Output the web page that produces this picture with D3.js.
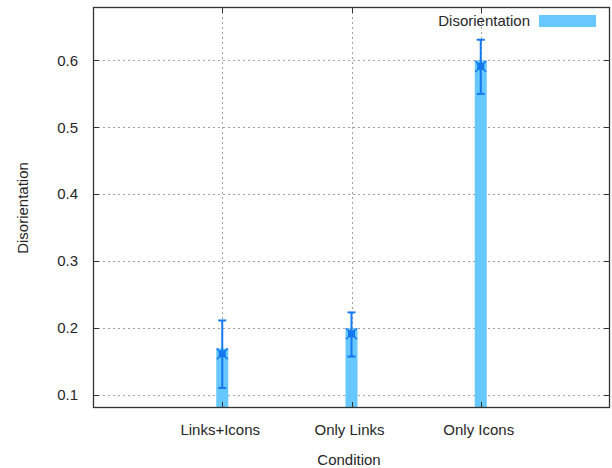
<!DOCTYPE html>
<html>
<head>
<meta charset="utf-8">
<script src="https://cdn.jsdelivr.net/npm/d3@7"></script>
<style>
  html, body { margin: 0; padding: 0; background: #fff; }
  svg { display: block; font-family: "Liberation Sans", Arial, Helvetica, sans-serif; }
</style>
</head>
<body>
<svg id="chart" width="612" height="468"></svg>
<script>
const categories = ["Links+Icons", "Only Links", "Only Icons"];
const barValues = [0.169, 0.199, 0.600];
const pointValues = [0.161, 0.191, 0.591];
const errLow = [0.110, 0.157, 0.550];
const errHigh = [0.211, 0.223, 0.631];
const yTicks = [0.1, 0.2, 0.3, 0.4, 0.5, 0.6];
const seriesName = "Disorientation";
const xLabel = "Condition";
const yLabel = "Disorientation";

const svg = d3.select("#chart");
const L = 93, R = 610, T = 7, B = 408;

const x = d3.scaleLinear().domain([0, 4]).range([L, R]);
const y = d3.scaleLinear().domain([0.08, 0.68]).range([B, T]);
const xPos = categories.map((c, i) => i + 1);

const barColor = "#66c8fe";
const errColor = "#1478f0";
const gridColor = "#a0a0a0";
const textColor = "#262626";

// grid
const grid = svg.append("g");
grid.selectAll("line.h").data(yTicks).join("line")
  .attr("x1", L).attr("x2", R)
  .attr("y1", d => Math.round(y(d)) + 0.5).attr("y2", d => Math.round(y(d)) + 0.5)
  .attr("stroke", gridColor).attr("stroke-width", 1).attr("stroke-dasharray", "2,3");
grid.selectAll("line.v").data(xPos).join("line")
  .attr("x1", d => Math.round(x(d)) + 0.5).attr("x2", d => Math.round(x(d)) + 0.5)
  .attr("y1", T).attr("y2", B)
  .attr("stroke", gridColor).attr("stroke-width", 1).attr("stroke-dasharray", "2,3");

// bars
const bw = 12;
svg.append("g").selectAll("rect").data(barValues).join("rect")
  .attr("x", (d, i) => x(xPos[i]) - bw / 2)
  .attr("width", bw)
  .attr("y", d => y(d))
  .attr("height", d => B - y(d))
  .attr("fill", barColor);

// error bars
const eg = svg.append("g").attr("stroke", errColor).attr("stroke-width", 2);
categories.forEach((c, i) => {
  const cx = x(xPos[i]);
  eg.append("line").attr("x1", cx).attr("x2", cx).attr("y1", y(errLow[i])).attr("y2", y(errHigh[i]));
  eg.append("line").attr("x1", cx - 4).attr("x2", cx + 4).attr("y1", y(errLow[i])).attr("y2", y(errLow[i]));
  eg.append("line").attr("x1", cx - 4).attr("x2", cx + 4).attr("y1", y(errHigh[i])).attr("y2", y(errHigh[i]));
  const py = y(pointValues[i]);
  // marker: box with cross
  eg.append("rect").attr("x", cx - 3.5).attr("y", py - 3.5).attr("width", 7).attr("height", 7)
    .attr("fill", errColor).attr("stroke", "none");
  eg.append("path").attr("d", d3.symbol(d3.symbolX, 80)()).attr("transform", `translate(${cx},${py})`)
    .attr("fill", "none").attr("stroke-width", 1.5);
});

// frame
svg.append("rect").attr("x", L + 0.5).attr("y", T + 0.5).attr("width", R - L - 1).attr("height", B - T - 1)
  .attr("fill", "none").attr("stroke", "#333").attr("stroke-width", 1.3);

// ticks (inward, mirrored)
const tk = svg.append("g").attr("stroke", "#333").attr("stroke-width", 1);
yTicks.forEach(v => {
  const yy = Math.round(y(v)) + 0.5;
  tk.append("line").attr("x1", L).attr("x2", L + 6).attr("y1", yy).attr("y2", yy);
  tk.append("line").attr("x1", R - 6).attr("x2", R).attr("y1", yy).attr("y2", yy);
});
xPos.forEach(v => {
  const xx = Math.round(x(v)) + 0.5;
  tk.append("line").attr("x1", xx).attr("x2", xx).attr("y1", B).attr("y2", B - 6);
  tk.append("line").attr("x1", xx).attr("x2", xx).attr("y1", T).attr("y2", T + 6);
});

// y tick labels
svg.append("g").selectAll("text").data(yTicks).join("text")
  .attr("x", 78).attr("y", d => y(d)).attr("dy", "0.35em")
  .attr("text-anchor", "end").attr("font-size", 15).attr("fill", textColor)
  .text(d => d3.format(".1f")(d));

// x tick labels
svg.append("g").selectAll("text").data(categories).join("text")
  .attr("x", (d, i) => x(xPos[i]) - 2).attr("y", 430).attr("dy", "0.35em")
  .attr("text-anchor", "middle").attr("font-size", 15).attr("fill", textColor)
  .text(d => d);

// axis labels
svg.append("text").attr("x", 349).attr("y", 460).attr("dy", "0.35em")
  .attr("text-anchor", "middle").attr("font-size", 15).attr("fill", textColor).text(xLabel);
svg.append("text").attr("transform", "translate(23,208) rotate(-90)").attr("dy", "0.35em")
  .attr("text-anchor", "middle").attr("font-size", 15).attr("fill", textColor).text(yLabel);

// legend
svg.append("text").attr("x", 530).attr("y", 21).attr("dy", "0.35em")
  .attr("text-anchor", "end").attr("font-size", 15).attr("fill", textColor).text(seriesName);
svg.append("rect").attr("x", 539).attr("y", 15).attr("width", 57).attr("height", 12).attr("fill", barColor);
</script>
</body>
</html>
